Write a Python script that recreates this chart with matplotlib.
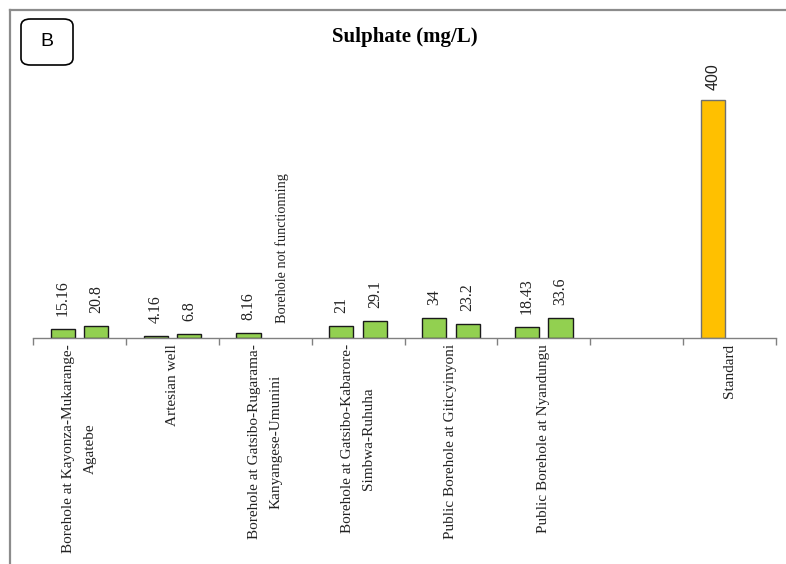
import numpy as np
import matplotlib
matplotlib.use("Agg")
import matplotlib.pyplot as plt
from matplotlib.patches import FancyBboxPatch
from matplotlib.lines import Line2D

# Sulphate concentrations (mg/L) per sampling site, two sampling campaigns
categories = [
    "Borehole at Kayonza-Mukarange-\nAgatebe",
    "Artesian well",
    "Borehole at Gatsibo-Rugarama-\nKanyangese-Umunini",
    "Borehole at Gatsibo-Kabarore-\nSimbwa-Ruhuha",
    "Public Borehole at Giticyinyoni",
    "Public Borehole at Nyandungu",
    "",
    "Standard",
]
series_1 = [15.16, 4.16, 8.16, 21, 34, 18.43, np.nan, 400]
series_2 = [20.8, 6.8, np.nan, 29.1, 23.2, 33.6, np.nan, np.nan]
value_text_1 = ["15.16", "4.16", "8.16", "21", "34", "18.43", "", "400"]
value_text_2 = ["20.8", "6.8", "", "29.1", "23.2", "33.6", "", ""]
note_text = "Borehole not functionning"
note_index = 2

W, H = 786, 564
fig = plt.figure(figsize=(W / 100, H / 100), dpi=100)

# outer panel frame (top and left edges)
fig.add_artist(Line2D([10 / W, 10 / W], [0, 1 - 10 / H], transform=fig.transFigure,
                      color="#8c8c8c", lw=1.6))
fig.add_artist(Line2D([10 / W, 1], [1 - 10 / H, 1 - 10 / H], transform=fig.transFigure,
                      color="#8c8c8c", lw=1.6))

# panel letter box
box = FancyBboxPatch((21 / W, 1 - 65 / H), 52 / W, 46 / H,
                     boxstyle="round,pad=0,rounding_size=0.012",
                     transform=fig.transFigure, fill=False, ec="black", lw=1.2)
fig.add_artist(box)
fig.text(47 / W, 1 - 42 / H, "B", ha="center", va="center",
         family="Liberation Sans", fontsize=14)

fig.text(405 / W, 1 - 37 / H, "Sulphate (mg/L)", ha="center", va="center",
         family="Liberation Serif", fontweight="bold", fontsize=15)

left, right, bottom, top = 33, 776, 338, 60
ax = fig.add_axes([left / W, 1 - bottom / H, (right - left) / W, (bottom - top) / H])

x = np.arange(len(categories))
width = 0.26
off = 0.18
green = "#92D050"
gold = "#FFC000"

colors_1 = [gold if c == "Standard" else green for c in categories]
edges_1 = ["#707070" if c == "Standard" else "#1a1a1a" for c in categories]
ax.bar(x - off, series_1, width, color=colors_1, edgecolor=edges_1, linewidth=1.0)
ax.bar(x + off, series_2, width, color=green, edgecolor="#1a1a1a", linewidth=1.0)

ymax = 400 * (bottom - top) / (bottom - 100)
ax.set_ylim(0, ymax)
ax.set_xlim(-0.5, len(categories) - 0.5)

px = ymax / (bottom - top)
for xi, v, t in zip(x, series_1, value_text_1):
    if t:
        fam = "Liberation Sans" if t == "400" else "Liberation Serif"
        gap = 10 if t == "400" else 13
        ax.text(xi - off, v + gap * px, t, rotation=90, ha="center", va="bottom",
                family=fam, fontsize=11.5, color="#222222")
for xi, v, t in zip(x, series_2, value_text_2):
    if t:
        ax.text(xi + off, v + 13 * px, t, rotation=90, ha="center", va="bottom",
                family="Liberation Serif", fontsize=11.5, color="#222222")
ax.text(note_index + off, 15 * px, note_text, rotation=90, ha="center", va="bottom",
        family="Liberation Serif", fontsize=10.3, color="#222222")

for s in ["top", "right", "left"]:
    ax.spines[s].set_visible(False)
ax.spines["bottom"].set_color("#808080")
ax.spines["bottom"].set_linewidth(1.0)
ax.set_yticks([])

ax.set_xticks(x)
ax.set_xticklabels([])
ax.tick_params(axis="x", which="major", length=0)
ax.set_xticks(np.arange(-0.5, len(categories)), minor=True)
ax.tick_params(axis="x", which="minor", length=5, color="#808080", width=1.0)

for xi, c in zip(x, categories):
    if c:
        ax.text(xi, -6 * px, c, rotation=90, ha="center", va="top",
                multialignment="center", family="Liberation Serif", fontsize=11,
                color="#222222", linespacing=1.85)

fig.savefig("out.png", dpi=100)
